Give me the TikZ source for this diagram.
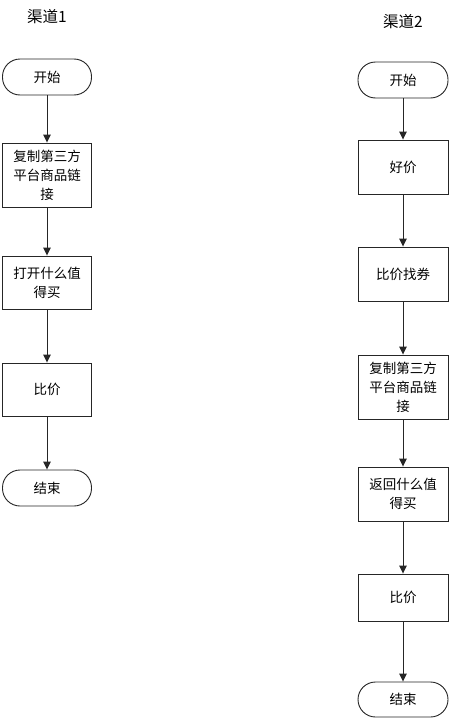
\documentclass[tikz,border=0pt]{standalone}
\usepackage{fontspec}
\setmainfont{Noto Sans CJK SC}
\usetikzlibrary{arrows.meta}
\begin{document}
\begin{tikzpicture}[x=1pt,y=-1pt,
  boxstyle/.style={draw=black!85,line width=0.9pt,inner sep=0pt,minimum width=89pt,align=center,font=\fontsize{13.5}{19}\selectfont},
  termstyle/.style={boxstyle,rounded corners=17.5pt,minimum height=36pt},
  titlestyle/.style={font=\fontsize{15.5}{18}\selectfont},
  flow/.style={draw=black!85,line width=0.9pt,-{Triangle[length=8pt,width=7.5pt]}}]
\useasboundingbox (0,0) rectangle (450,720);
\fill[white] (0,0) rectangle (450,720);
% channel 1
\node[titlestyle] (t1) at (47,17) {渠道1};
\node[termstyle] (s1) at (47,77) {开始};
\node[boxstyle,minimum height=64pt] (a1) at (47,175) {复制第三方\\平台商品链\\接};
\node[boxstyle,minimum height=53pt] (a2) at (47,282.5) {打开什么值\\得买};
\node[boxstyle,minimum height=53pt] (a3) at (47,389.5) {比价};
\node[termstyle] (e1) at (47,488) {结束};
\draw[flow] (s1) -- (a1);
\draw[flow] (a1) -- (a2);
\draw[flow] (a2) -- (a3);
\draw[flow] (a3) -- (e1);
% channel 2
\node[titlestyle] (t2) at (403,22) {渠道2};
\node[termstyle,minimum width=90pt] (s2) at (403,80) {开始};
\node[boxstyle,minimum width=90pt,minimum height=54pt] (b1) at (403,167) {好价};
\node[boxstyle,minimum width=90pt,minimum height=54pt] (b2) at (403,274) {比价找券};
\node[boxstyle,minimum width=90pt,minimum height=64pt] (b3) at (403,387) {复制第三方\\平台商品链\\接};
\node[boxstyle,minimum width=90pt,minimum height=54pt] (b4) at (403,494) {返回什么值\\得买};
\node[boxstyle,minimum width=90pt,minimum height=47pt] (b5) at (403,597.5) {比价};
\node[termstyle,minimum width=90pt,minimum height=35pt] (e2) at (403,699.5) {结束};
\draw[flow] (s2) -- (b1);
\draw[flow] (b1) -- (b2);
\draw[flow] (b2) -- (b3);
\draw[flow] (b3) -- (b4);
\draw[flow] (b4) -- (b5);
\draw[flow] (b5) -- (e2);
\end{tikzpicture}
\end{document}
